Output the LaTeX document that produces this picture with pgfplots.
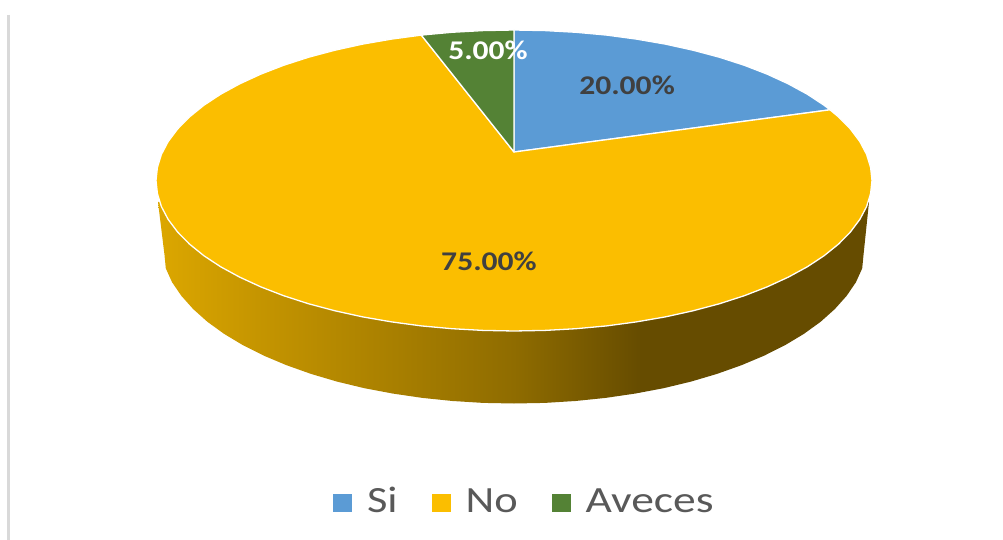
\documentclass[border=0pt]{standalone}
\usepackage{pgfplots}
\pgfplotsset{compat=1.18}
\usepackage{fontspec}
\setmainfont{Carlito}
\definecolor{cBlue}{HTML}{5B9BD5}
\definecolor{cGold}{HTML}{FBBE00}
\definecolor{cGreen}{HTML}{548235}
\definecolor{cText}{HTML}{404040}
\definecolor{cLeg}{HTML}{595959}
\definecolor{sA}{HTML}{DCA700}
\definecolor{sB}{HTML}{C59500}
\definecolor{sC}{HTML}{8F6C00}
\definecolor{sD}{HTML}{664C00}
\pgfdeclarehorizontalshading{pieside}{100bp}{color(0bp)=(sA);color(25bp)=(sA);color(32bp)=(sB);color(50bp)=(sC);color(59bp)=(sD);color(100bp)=(sD)}
\begin{document}
\begin{tikzpicture}
\begin{axis}[
  scale only axis, width=1003bp, height=540bp,
  xmin=0, xmax=1003, ymin=0, ymax=540, y dir=reverse,
  hide axis, no markers,
  legend columns=3,
  legend style={at={(axis cs:333,487)}, anchor=north west, draw=none, fill=none, inner sep=0pt, outer sep=0pt,
    font=\fontsize{37bp}{41bp}\selectfont\color{cLeg},
    /tikz/every even column/.append style={column sep=34bp},
    nodes={inner sep=0pt, outer sep=0pt, anchor=base west}},
  legend image code/.code={\fill[#1, draw=none] (0bp,0bp) rectangle (19bp,18bp);},
]
\path (axis cs:0,0) rectangle (axis cs:1003,540);
% gray axis line at the left
\addplot[forget plot, color=black!15, line width=3bp] coordinates {(8.5,15) (8.5,540)};
% side wall
\addplot[forget plot, draw=none, shading=pieside] coordinates {
 (158,202) (164.5,255) (165.8,268.4) (172.1,282.3) (181.4,295.9) (193.2,309.1) (207.4,321.8) (224,333.8) (242.8,345.1)
 (263.7,355.6) (286.5,365.2) (311,373.9) (337,381.6) (364.4,388.2) (393,393.6) (422.4,397.9) (452.5,401) (483.1,402.9)
 (514,403.5) (544.9,402.9) (575.5,401) (605.6,397.9) (635,393.6) (663.6,388.2) (691,381.6) (717,373.9) (741.5,365.2)
 (764.3,355.6) (785.2,345.1) (804,333.8) (820.6,321.8) (834.8,309.1) (846.6,295.9) (855.9,282.3) (862.2,268.4)
 (863.5,255) (869,202) (514,180)
} -- cycle;
% Si
\addplot[fill=cBlue, draw=white, line width=1.3bp, line join=round] coordinates {
 (514,152) (514,30) (545.2,30.6) (576.1,32.3) (606.7,35.1) (636.4,39.1) (665.3,44.1) (693,50.2) (719.3,57.2)
 (744.1,65.2) (767.1,74.1) (788.2,83.8) (807.3,94.2) (824,105.2) (830,109.8)
} -- cycle;
% No
\addplot[fill=cGold, draw=white, line width=1.3bp, line join=round] coordinates {
 (514,152) (830,109.8) (838.5,116.9) (850.4,129) (859.8,141.5) (866.6,154.4) (870.6,167.4) (872,180.5)
 (870.6,193.6) (866.6,206.6) (859.8,219.5) (850.4,232) (838.5,244.1) (824,255.8) (807.3,266.8) (788.2,277.2)
 (767.1,286.9) (744.1,295.8) (719.3,303.8) (693,310.8) (665.3,316.9) (636.4,321.9) (606.7,325.9) (576.1,328.7)
 (545.2,330.4) (514,331) (482.8,330.4) (451.9,328.7) (421.3,325.9) (391.6,321.9) (362.7,316.9) (335,310.8)
 (308.7,303.8) (283.9,295.8) (260.9,286.9) (239.8,277.2) (220.7,266.8) (204,255.8) (189.5,244.1) (177.6,232)
 (168.2,219.5) (161.4,206.6) (157.4,193.6) (156,180.5) (157.4,167.4) (161.4,154.4) (168.2,141.5) (177.6,129)
 (189.5,116.9) (204,105.2) (220.7,94.2) (239.8,83.8) (260.9,74.1) (283.9,65.2) (308.7,57.2) (335,50.2)
 (362.7,44.1) (391.6,39.1) (421.3,35.1)
} -- cycle;
% Aveces
\addplot[fill=cGreen, draw=white, line width=1.3bp, line join=round] coordinates {
 (514,152) (421.3,35.1) (451.9,32.3) (482.8,30.6) (514,30)
} -- cycle;
\legend{\hspace*{15bp}\scalebox{1.2}[1]{Si},\hspace*{15bp}\scalebox{1.2}[1]{No},\hspace*{15bp}\scalebox{1.23}[1]{Aveces}}
\node[xscale=1.17, text=cText, font=\fontsize{27bp}{30bp}\selectfont\bfseries] at (axis cs:627,85) {20.00\%};
\node[xscale=1.17, text=cText, font=\fontsize{27bp}{30bp}\selectfont\bfseries] at (axis cs:489,261) {75.00\%};
\node[xscale=1.17, text=white, font=\fontsize{27bp}{30bp}\selectfont\bfseries] at (axis cs:488,50) {5.00\%};
\end{axis}
\end{tikzpicture}
\end{document}
